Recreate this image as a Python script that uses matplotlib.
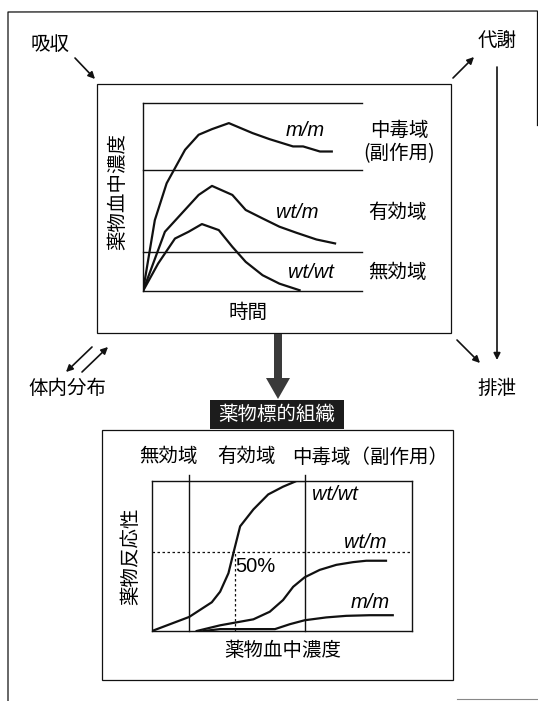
import matplotlib
matplotlib.use('Agg')
import matplotlib.pyplot as plt
from matplotlib.patches import Rectangle, FancyArrow

plt.rcParams['font.family'] = ['Noto Sans CJK JP', 'DejaVu Sans']

W, H = 538, 701
INK = '#111111'

# upper chart: blood concentration over time (arbitrary units 0-100)
time_mm = [0, 5.4, 10.8, 19.2, 25.4, 31.5, 39.2, 50.0, 57.7, 68.5, 73.1, 80.8, 86.2]
conc_mm = [0, 37.7, 57.3, 75.1, 83.1, 86.1, 89.3, 84.0, 80.8, 76.9, 76.9, 74.2, 74.2]
time_wtm = [0, 10.0, 17.7, 25.4, 31.5, 40.8, 46.9, 54.6, 62.3, 70.0, 79.2, 87.7]
conc_wtm = [0, 31.5, 41.3, 51.1, 55.9, 51.1, 43.1, 38.6, 34.2, 31.0, 27.4, 25.3]
time_wtwt = [0, 6.9, 14.6, 20.8, 26.9, 34.6, 40.8, 46.9, 54.6, 62.3, 71.5]
conc_wtwt = [0, 14.6, 27.9, 31.5, 35.6, 32.4, 23.5, 15.5, 8.4, 3.9, 0.4]
conc_levels = [20.5, 64.4, 100]
zone_names_upper = ['無効域', '有効域', '中毒域\n(副作用)']

# lower chart: response (%) versus blood concentration
dose_wtwt = [0, 14.3, 23.0, 26.2, 29.4, 31.3, 33.9, 39.0, 44.7, 50.4, 55.6, 58.8]
resp_wtwt = [0, 8.9, 18.2, 24.9, 36.6, 49.3, 66.3, 77.0, 86.5, 91.4, 95, 95]
dose_wtm = [17.2, 26.2, 39.0, 45.3, 50.4, 54.3, 58.7, 64.5, 70.9, 77.3, 82.4, 90.0]
resp_wtm = [0, 3.6, 7.4, 12.2, 19.6, 28.0, 34.0, 38.7, 41.9, 43.6, 44.5, 44.5]
dose_mm = [19.8, 26.2, 47.3, 53.0, 58.7, 67.0, 74.7, 83.7, 92.6]
resp_mm = [0, 1.2, 1.2, 4.3, 6.8, 8.6, 9.6, 10.0, 10.0]
zone_edges = [14.3, 58.7]
ec50_dose, ec50_resp = 31.9, 50
zone_names_lower = ['無効域', '有効域', '中毒域（副作用）']

fig = plt.figure(figsize=(W / 100, H / 100), dpi=100)
base = fig.add_axes([0, 0, 1, 1])
base.set_xlim(0, W)
base.set_ylim(H, 0)
base.axis('off')


def frac(left, top, right, bottom):
    return [left / W, 1 - bottom / H, (right - left) / W, (bottom - top) / H]


def arrow(start, end):
    base.annotate('', xy=end, xytext=start,
                  arrowprops=dict(arrowstyle='-|>', lw=1.2, color=INK,
                                  mutation_scale=10, shrinkA=0, shrinkB=0))


# outer frame (scan is cut at the right and bottom)
base.plot([8, 8, 537], [H, 12, 11], color=INK, lw=0.9)
base.plot([537, 537], [11, 125], color=INK, lw=0.9)
base.plot([457, 538], [699, 699], color='#888888', lw=0.8)

# boxes
base.add_patch(Rectangle((97, 84), 354, 249, fill=False, ec=INK, lw=0.9))
base.add_patch(Rectangle((102, 430), 351, 250, fill=False, ec=INK, lw=0.9))

# pharmacokinetic labels and arrows
fs = 14
base.text(50, 44, '吸収', fontsize=fs, ha='center', va='center')
base.text(497, 40, '代謝', fontsize=fs, ha='center', va='center')
base.text(67, 388, '体内分布', fontsize=fs, ha='center', va='center')
base.text(497, 388, '排泄', fontsize=fs, ha='center', va='center')
arrow((75, 58), (95, 79))
arrow((453, 78), (474, 57))
arrow((497, 67), (497, 360))
arrow((457, 340), (480, 363))
arrow((92, 347), (66, 372))
arrow((82, 372), (108, 347))

# big arrow down to the target tissue
base.add_patch(FancyArrow(278, 334, 0, 65, width=8, head_width=24, head_length=21,
                          length_includes_head=True, color='#3a3a3a', lw=0))
base.add_patch(Rectangle((210, 400), 134, 29, color='#1c1c1c', lw=0))
base.text(277, 414.5, '薬物標的組織', fontsize=fs, color='white', ha='center', va='center')

# upper chart
ax1 = fig.add_axes(frac(143, 103, 362, 291))
ax1.patch.set_visible(False)
for side in ['top', 'right']:
    ax1.spines[side].set_visible(False)
for side in ['left', 'bottom']:
    ax1.spines[side].set_linewidth(1.0)
    ax1.spines[side].set_color(INK)
ax1.set_xlim(0, 100)
ax1.set_ylim(0, 100)
ax1.set_xticks([])
ax1.set_yticks([])
for lev in conc_levels:
    ax1.axhline(lev, color=INK, lw=1.0, clip_on=False)
for t, c in [(time_mm, conc_mm), (time_wtm, conc_wtm), (time_wtwt, conc_wtwt)]:
    ax1.plot(t, c, color=INK, lw=1.6)
lat = dict(fontsize=14.5, style='italic', family='Liberation Sans', ha='center', va='center')
ax1.text(0.74, 0.856, 'm/m', transform=ax1.transAxes, **lat)
ax1.text(0.703, 0.42, 'wt/m', transform=ax1.transAxes, **lat)
ax1.text(0.767, 0.096, 'wt/wt', transform=ax1.transAxes, **lat)

base.text(397, 272, zone_names_upper[0], fontsize=fs, ha='center', va='center')
base.text(397, 212, zone_names_upper[1], fontsize=fs, ha='center', va='center')
base.text(399, 142, zone_names_upper[2], fontsize=fs, ha='center', va='center',
          linespacing=1.15)
base.text(248, 312, '時間', fontsize=fs, ha='center', va='center')
base.text(118, 192, '薬物血中濃度', fontsize=fs, ha='center', va='center', rotation=90)

# lower chart
ax2 = fig.add_axes(frac(152, 481, 412, 631))
ax2.patch.set_visible(False)
for side in ax2.spines.values():
    side.set_linewidth(1.0)
    side.set_color(INK)
ax2.set_xlim(0, 100)
ax2.set_ylim(0, 95)
ax2.set_xticks([])
ax2.set_yticks([])
for edge in zone_edges:
    ax2.plot([edge, edge], [0, 98.5], color=INK, lw=1.0, clip_on=False)
ax2.axhline(ec50_resp, color=INK, lw=0.9, ls=(0, (2, 2)))
ax2.plot([ec50_dose, ec50_dose], [0, ec50_resp], color=INK, lw=0.9, ls=(0, (2, 2)))
for d, r in [(dose_wtwt, resp_wtwt), (dose_wtm, resp_wtm), (dose_mm, resp_mm)]:
    ax2.plot(d, r, color=INK, lw=1.6)
ax2.text(0.704, 0.907, 'wt/wt', transform=ax2.transAxes, **lat)
ax2.text(0.819, 0.593, 'wt/m', transform=ax2.transAxes, **lat)
ax2.text(0.838, 0.187, 'm/m', transform=ax2.transAxes, **lat)
ax2.text(0.396, 0.427, '50%', transform=ax2.transAxes, fontsize=14.5,
          family='Liberation Sans', ha='center', va='center')

base.text(168, 457, zone_names_lower[0], fontsize=fs, ha='center', va='center')
base.text(246, 457, zone_names_lower[1], fontsize=fs, ha='center', va='center')
base.text(370, 457, zone_names_lower[2], fontsize=fs, ha='center', va='center')
base.text(283, 651, '薬物血中濃度', fontsize=fs, ha='center', va='center')
base.text(131, 556, '薬物反応性', fontsize=fs, ha='center', va='center', rotation=90)

fig.savefig('out.png', dpi=100, facecolor='white')
